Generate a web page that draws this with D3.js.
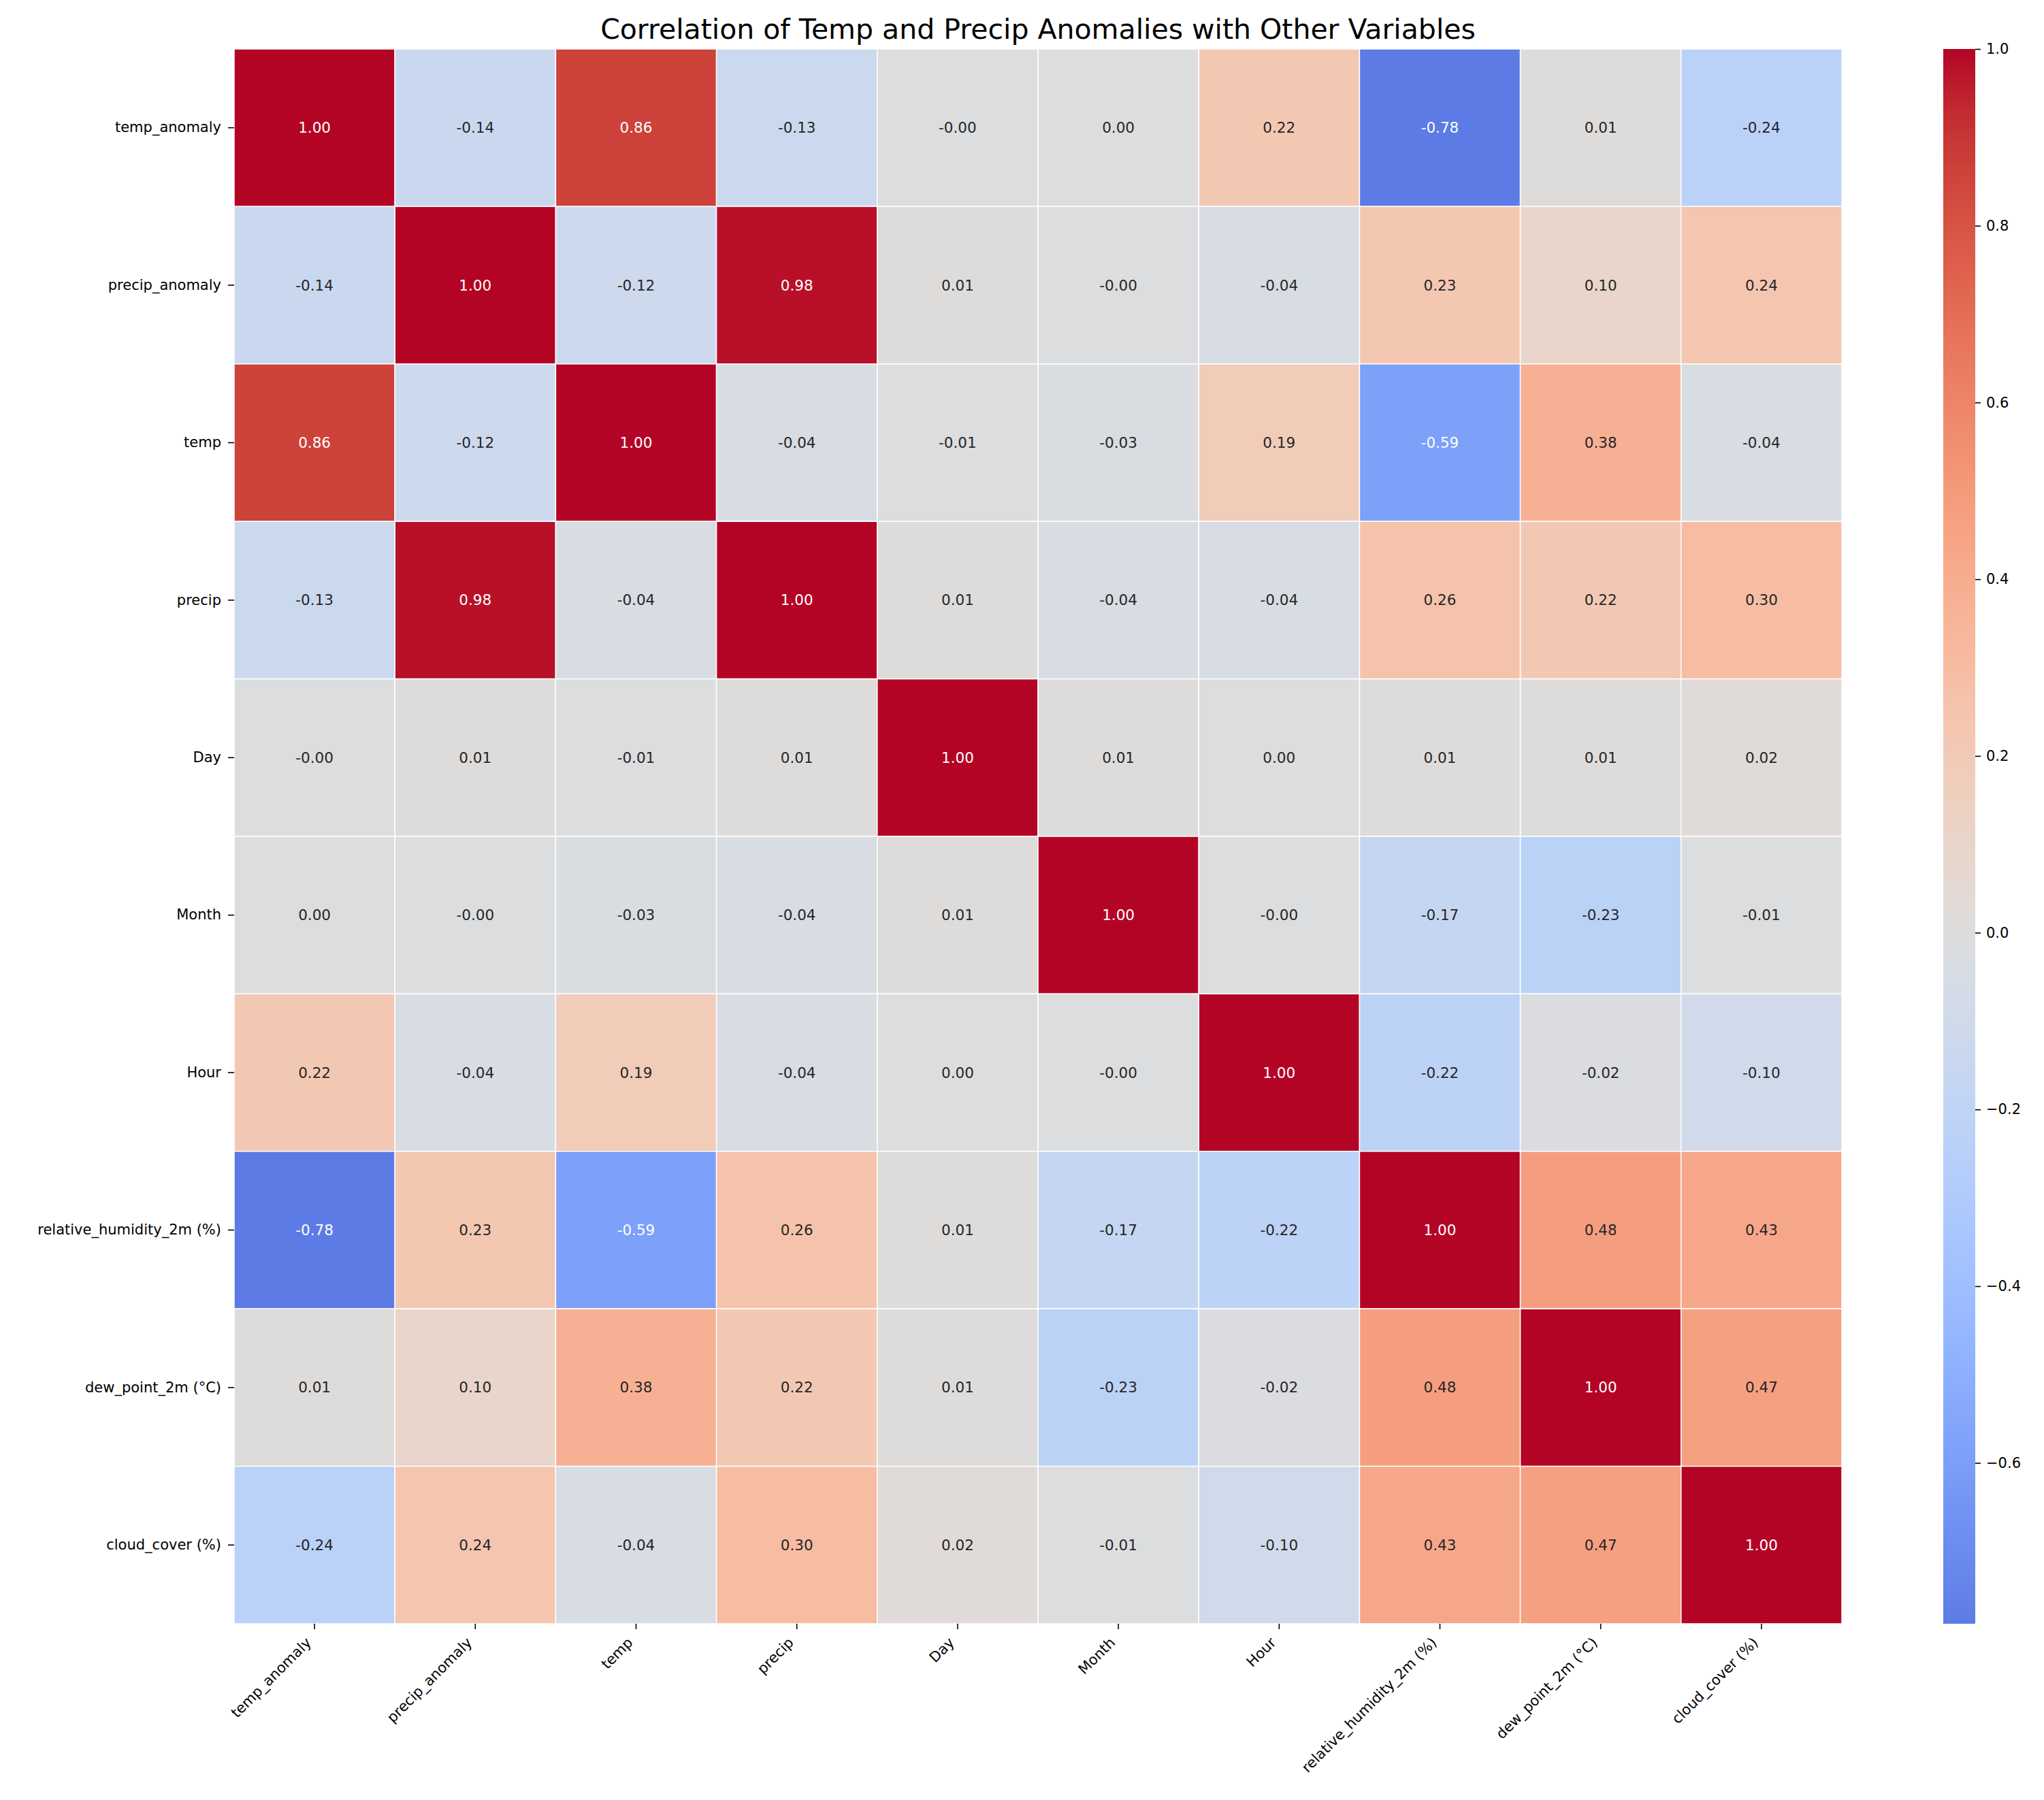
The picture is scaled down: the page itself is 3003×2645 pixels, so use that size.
<!DOCTYPE html>
<html>
<head>
<meta charset="utf-8">
<script src="https://cdn.jsdelivr.net/npm/d3@7"></script>
<style>
  body { margin: 0; background: #fff; }
  text { font-family: "DejaVu Sans", sans-serif; }
</style>
</head>
<body>
<div id="plotDiv"></div>
<script>
// --- Data ---
const variables = ["temp_anomaly", "precip_anomaly", "temp", "precip", "Day", "Month", "Hour",
  "relative_humidity_2m (%)", "dew_point_2m (°C)", "cloud_cover (%)"];

const corrRows = [
  [ 1.00, -0.14,  0.86, -0.13, -0.004, 0.001,  0.22, -0.782, 0.01, -0.24],
  [-0.14,  1.00, -0.12,  0.98,  0.01, -0.004, -0.04,  0.23,  0.10,  0.24],
  [ 0.86, -0.12,  1.00, -0.04, -0.01, -0.03,   0.19, -0.59,  0.38, -0.04],
  [-0.13,  0.98, -0.04,  1.00,  0.01, -0.04,  -0.04,  0.26,  0.22,  0.30],
  [-0.004, 0.01, -0.01,  0.01,  1.00,  0.01,   0.001, 0.01,  0.01,  0.02],
  [ 0.001,-0.004,-0.03, -0.04,  0.01,  1.00,  -0.004,-0.17, -0.23, -0.01],
  [ 0.22, -0.04,  0.19, -0.04,  0.001,-0.004,  1.00, -0.22, -0.02, -0.10],
  [-0.782, 0.23, -0.59,  0.26,  0.01, -0.17,  -0.22,  1.00,  0.48,  0.43],
  [ 0.01,  0.10,  0.38,  0.22,  0.01, -0.23,  -0.02,  0.48,  1.00,  0.47],
  [-0.24,  0.24, -0.04,  0.30,  0.02, -0.01,  -0.10,  0.43,  0.47,  1.00]
];

const colorbarTicks = [-0.6, -0.4, -0.2, 0.0, 0.2, 0.4, 0.6, 0.8, 1.0];

// matplotlib coolwarm control points
const coolwarmStops = [
  [59,76,192],[68,90,204],[77,104,215],[87,117,225],[98,130,234],[108,142,241],
  [119,154,247],[130,165,251],[141,176,254],[152,185,255],[163,194,255],[174,201,253],
  [184,208,249],[194,213,244],[204,217,238],[213,219,230],[221,221,221],[229,216,209],
  [236,211,197],[241,204,185],[245,196,173],[247,187,160],[247,177,148],[247,166,135],
  [244,154,123],[241,141,111],[236,127,99],[229,112,88],[222,96,77],[213,80,66],
  [203,62,56],[192,40,47],[180,4,38]
].map(c => d3.rgb(c[0], c[1], c[2]).formatHex());

// --- Definitions ---
const W = 3003, H = 2645;
const hm = {left: 344, right: 2706, top: 72, bottom: 2386};
const cb = {left: 2855, right: 2902};

const cells = [];
corrRows.forEach((row, i) => row.forEach((v, j) => cells.push({row: variables[i], col: variables[j], v})));

const vmin = d3.min(cells, d => d.v), vmax = 1;
// seaborn centers at 0 -> colormap spans -1..1
const coolwarm = d3.interpolateRgbBasis ? d3.piecewise(d3.interpolateRgb, coolwarmStops) : null;
const color = d3.scaleSequential(coolwarm).domain([-1, 1]);

const x = d3.scaleBand().domain(variables).range([hm.left, hm.right]);
const y = d3.scaleBand().domain(variables).range([hm.top, hm.bottom]);

function luminance(c) {
  const rgb = d3.rgb(c);
  const lin = v => { v /= 255; return v <= 0.03928 ? v / 12.92 : Math.pow((v + 0.055) / 1.055, 2.4); };
  return 0.2126 * lin(rgb.r) + 0.7152 * lin(rgb.g) + 0.0722 * lin(rgb.b);
}

// --- SVG Setup ---
const svg = d3.select("#plotDiv").append("svg")
  .attr("width", W).attr("height", H)
  .style("background", "#fff");

// --- Cells ---
svg.append("g").selectAll("rect")
  .data(cells)
  .join("rect")
  .attr("x", d => x(d.col))
  .attr("y", d => y(d.row))
  .attr("width", x.bandwidth())
  .attr("height", y.bandwidth())
  .attr("fill", d => color(d.v))
  .attr("stroke", "#fff")
  .attr("stroke-width", 1.5);

// --- Annotations ---
svg.append("g").selectAll("text")
  .data(cells)
  .join("text")
  .attr("x", d => x(d.col) + x.bandwidth() / 2)
  .attr("y", d => y(d.row) + y.bandwidth() / 2)
  .attr("text-anchor", "middle")
  .attr("dominant-baseline", "central")
  .attr("font-size", 21.5)
  .attr("fill", d => luminance(color(d.v)) > 0.408 ? "#262626" : "#fff")
  .text(d => d.v.toFixed(2));

// --- Axes ---
const yAxis = svg.append("g")
  .attr("transform", `translate(${hm.left},0)`)
  .call(d3.axisLeft(y).tickSize(9).tickPadding(10));
yAxis.select(".domain").remove();
yAxis.selectAll("text").attr("font-size", 21).attr("fill", "#000").style("font-family", "DejaVu Sans");
yAxis.selectAll("line").attr("stroke", "#000").attr("stroke-width", 1.6);

const xAxis = svg.append("g")
  .attr("transform", `translate(0,${hm.bottom})`)
  .call(d3.axisBottom(x).tickSize(8));
xAxis.select(".domain").remove();
xAxis.selectAll("line").attr("stroke", "#000").attr("stroke-width", 1.6);
xAxis.selectAll("text")
  .attr("font-size", 21).attr("fill", "#000").style("font-family", "DejaVu Sans")
  .attr("x", 0).attr("y", 0).attr("dy", 0)
  .attr("text-anchor", "end")
  .attr("transform", "translate(-3.5,29) rotate(-45)");

// --- Title ---
svg.append("text")
  .attr("x", (hm.left + hm.right) / 2)
  .attr("y", 57)
  .attr("text-anchor", "middle")
  .attr("font-size", 41)
  .attr("fill", "#000")
  .text("Correlation of Temp and Precip Anomalies with Other Variables");

// --- Colorbar ---
const cbScale = d3.scaleLinear().domain([vmin, vmax]).range([hm.bottom, hm.top]);
const grad = svg.append("defs").append("linearGradient")
  .attr("id", "cbGrad").attr("x1", 0).attr("y1", 1).attr("x2", 0).attr("y2", 0);
d3.range(0, 1.0001, 0.02).forEach(t => {
  grad.append("stop").attr("offset", t).attr("stop-color", color(vmin + t * (vmax - vmin)));
});
svg.append("rect")
  .attr("x", cb.left).attr("y", hm.top)
  .attr("width", cb.right - cb.left).attr("height", hm.bottom - hm.top)
  .attr("fill", "url(#cbGrad)");

const cbAxis = svg.append("g")
  .attr("transform", `translate(${cb.right},0)`)
  .call(d3.axisRight(cbScale).tickValues(colorbarTicks).tickFormat(d3.format(".1f")).tickSize(8).tickPadding(8));
cbAxis.select(".domain").remove();
cbAxis.selectAll("line").attr("stroke", "#000").attr("stroke-width", 1.6);
cbAxis.selectAll("text").attr("font-size", 21).attr("fill", "#000").style("font-family", "DejaVu Sans");
</script>
</body>
</html>
